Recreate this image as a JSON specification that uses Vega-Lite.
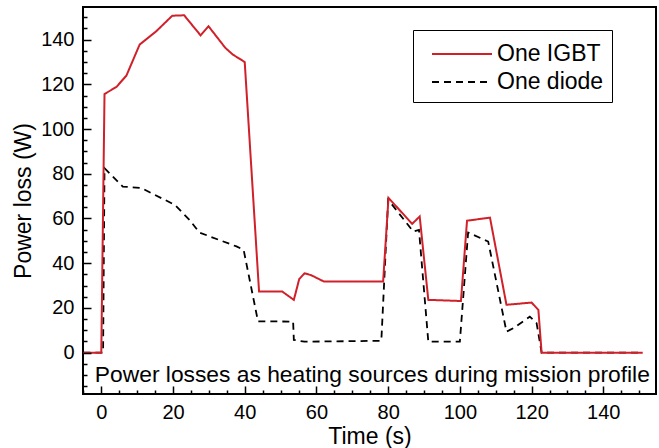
{
  "$schema": "https://vega.github.io/schema/vega-lite/v6.json",
  "width": 573,
  "height": 387,
  "autosize": {"type": "none"},
  "padding": {"left": 83, "top": 7, "right": 3, "bottom": 54},
  "background": "white",
  "config": {
    "view": {"stroke": "black", "strokeWidth": 2},
    "font": "Liberation Sans",
    "axis": {
      "labelFont": "Liberation Sans",
      "titleFont": "Liberation Sans",
      "labelFontSize": 20,
      "titleFontSize": 23,
      "titleFontWeight": "normal",
      "labelColor": "black",
      "titleColor": "black",
      "grid": false,
      "labelOverlap": false,
      "labelFlush": false
    },
    "legend": {
      "orient": "none",
      "legendX": 330,
      "legendY": 23,
      "strokeColor": "black",
      "strokeWidth": 1,
      "padding": 8,
      "symbolType": "M-2,0H2",
      "symbolSize": 900,
      "symbolStrokeWidth": 2,
      "symbolOffset": 25,
      "labelFont": "Liberation Sans",
      "labelFontSize": 23,
      "labelColor": "black",
      "labelOffset": 19,
      "rowPadding": 0
    }
  },
  "datasets": {
    "igbt": [
      {"t": -5, "p": 0, "series": "One IGBT"},
      {"t": 0, "p": 0, "series": "One IGBT"},
      {"t": 0.9, "p": 115.7, "series": "One IGBT"},
      {"t": 4.2, "p": 118.8, "series": "One IGBT"},
      {"t": 7.0, "p": 123.9, "series": "One IGBT"},
      {"t": 10.7, "p": 137.8, "series": "One IGBT"},
      {"t": 15.3, "p": 143.7, "series": "One IGBT"},
      {"t": 19.8, "p": 150.7, "series": "One IGBT"},
      {"t": 23.1, "p": 150.9, "series": "One IGBT"},
      {"t": 27.7, "p": 141.9, "series": "One IGBT"},
      {"t": 29.9, "p": 146, "series": "One IGBT"},
      {"t": 34.6, "p": 136.3, "series": "One IGBT"},
      {"t": 36.7, "p": 133.3, "series": "One IGBT"},
      {"t": 40, "p": 130, "series": "One IGBT"},
      {"t": 44, "p": 27.3, "series": "One IGBT"},
      {"t": 50.5, "p": 27.3, "series": "One IGBT"},
      {"t": 53.7, "p": 23.6, "series": "One IGBT"},
      {"t": 55.2, "p": 32.9, "series": "One IGBT"},
      {"t": 56.7, "p": 35.5, "series": "One IGBT"},
      {"t": 58.6, "p": 34.6, "series": "One IGBT"},
      {"t": 60.2, "p": 33.3, "series": "One IGBT"},
      {"t": 62.1, "p": 31.8, "series": "One IGBT"},
      {"t": 78.6, "p": 31.8, "series": "One IGBT"},
      {"t": 80.1, "p": 69.2, "series": "One IGBT"},
      {"t": 86.7, "p": 57.6, "series": "One IGBT"},
      {"t": 88.8, "p": 60.9, "series": "One IGBT"},
      {"t": 91.2, "p": 23.6, "series": "One IGBT"},
      {"t": 100.3, "p": 23.1, "series": "One IGBT"},
      {"t": 102.0, "p": 59, "series": "One IGBT"},
      {"t": 108.4, "p": 60.4, "series": "One IGBT"},
      {"t": 113, "p": 21.4, "series": "One IGBT"},
      {"t": 120, "p": 22.4, "series": "One IGBT"},
      {"t": 121.9, "p": 19.1, "series": "One IGBT"},
      {"t": 122.8, "p": 0, "series": "One IGBT"},
      {"t": 151, "p": 0, "series": "One IGBT"}
    ],
    "diode": [
      {"t": -5, "p": 0, "series": "One diode"},
      {"t": 0.5, "p": 0, "series": "One diode"},
      {"t": 0.9, "p": 82.5, "series": "One diode"},
      {"t": 6, "p": 74.3, "series": "One diode"},
      {"t": 11.2, "p": 73.6, "series": "One diode"},
      {"t": 20.5, "p": 66.1, "series": "One diode"},
      {"t": 24.6, "p": 59.4, "series": "One diode"},
      {"t": 27.4, "p": 53.7, "series": "One diode"},
      {"t": 37.7, "p": 47.5, "series": "One diode"},
      {"t": 39.7, "p": 46, "series": "One diode"},
      {"t": 43.7, "p": 14, "series": "One diode"},
      {"t": 53.5, "p": 13.9, "series": "One diode"},
      {"t": 53.7, "p": 5.7, "series": "One diode"},
      {"t": 56.7, "p": 4.9, "series": "One diode"},
      {"t": 78.1, "p": 5.3, "series": "One diode"},
      {"t": 80, "p": 68.4, "series": "One diode"},
      {"t": 87, "p": 54.2, "series": "One diode"},
      {"t": 88.6, "p": 54.9, "series": "One diode"},
      {"t": 91.2, "p": 4.9, "series": "One diode"},
      {"t": 100, "p": 4.9, "series": "One diode"},
      {"t": 102.3, "p": 53.7, "series": "One diode"},
      {"t": 107.9, "p": 49.7, "series": "One diode"},
      {"t": 113, "p": 9.4, "series": "One diode"},
      {"t": 114.9, "p": 10.9, "series": "One diode"},
      {"t": 119.5, "p": 16.1, "series": "One diode"},
      {"t": 121.4, "p": 13.2, "series": "One diode"},
      {"t": 122.8, "p": 0, "series": "One diode"},
      {"t": 151, "p": 0, "series": "One diode"}
    ],
    "note": [
      {"t": 75.6, "p": -10, "label": "Power losses as heating sources during mission profile"}
    ]
  },
  "encoding": {
    "x": {
      "field": "t", "type": "quantitative",
      "scale": {"domain": [-5.1, 154.7], "nice": false, "zero": false},
      "axis": {
        "title": "Time (s)",
        "values": [-5, 0, 5, 10, 15, 20, 25, 30, 35, 40, 45, 50, 55, 60, 65, 70, 75, 80, 85, 90, 95, 100, 105, 110, 115, 120, 125, 130, 135, 140, 145, 150],
        "labelExpr": "datum.value % 20 === 0 ? datum.label : ''",
        "domain": false,
        "ticks": true,
        "tickColor": "black",
        "tickWidth": 1.5,
        "tickSize": 8,
        "tickDash": {"condition": {"test": "datum.value % 20 !== 0", "value": [4, 4]}, "value": [1, 0]},
        "tickDashOffset": {"condition": {"test": "datum.value % 20 !== 0", "value": 4}, "value": 0},
        "offset": -8,
        "zindex": 2,
        "labelPadding": 8,
        "titlePadding": 3
      }
    },
    "y": {
      "field": "p", "type": "quantitative",
      "scale": {"domain": [-18.5, 154.6], "nice": false, "zero": false},
      "axis": {
        "title": "Power loss (W)",
        "values": [-15, -10, -5, 0, 5, 10, 15, 20, 25, 30, 35, 40, 45, 50, 55, 60, 65, 70, 75, 80, 85, 90, 95, 100, 105, 110, 115, 120, 125, 130, 135, 140, 145, 150],
        "labelExpr": "datum.value % 20 === 0 ? datum.label : ''",
        "domain": false,
        "ticks": true,
        "tickColor": "black",
        "tickWidth": 1.5,
        "tickSize": 8,
        "tickDash": {"condition": {"test": "datum.value % 20 !== 0", "value": [4, 4]}, "value": [1, 0]},
        "tickDashOffset": {"condition": {"test": "datum.value % 20 !== 0", "value": 4}, "value": 0},
        "offset": -8,
        "zindex": 2,
        "labelPadding": 9,
        "titlePadding": 5
      }
    }
  },
  "layer": [
    {
      "data": {"name": "diode"},
      "mark": {"type": "line", "strokeWidth": 1.8},
      "encoding": {
        "color": {"field": "series", "type": "nominal", "scale": {"domain": ["One IGBT", "One diode"], "range": ["#d0202a", "black"]}, "legend": {"title": null}},
        "strokeDash": {"field": "series", "type": "nominal", "scale": {"domain": ["One IGBT", "One diode"], "range": [[1, 0], [7, 5]]}, "legend": {"title": null}}
      }
    },
    {
      "data": {"name": "igbt"},
      "mark": {"type": "line", "strokeWidth": 2},
      "encoding": {
        "color": {"field": "series", "type": "nominal"},
        "strokeDash": {"field": "series", "type": "nominal"}
      }
    },
    {
      "data": {"name": "note"},
      "mark": {"type": "text", "fontSize": 22.8, "font": "Liberation Sans", "color": "black", "align": "center", "baseline": "middle"},
      "encoding": {
        "text": {"field": "label", "type": "nominal"}
      }
    }
  ]
}
